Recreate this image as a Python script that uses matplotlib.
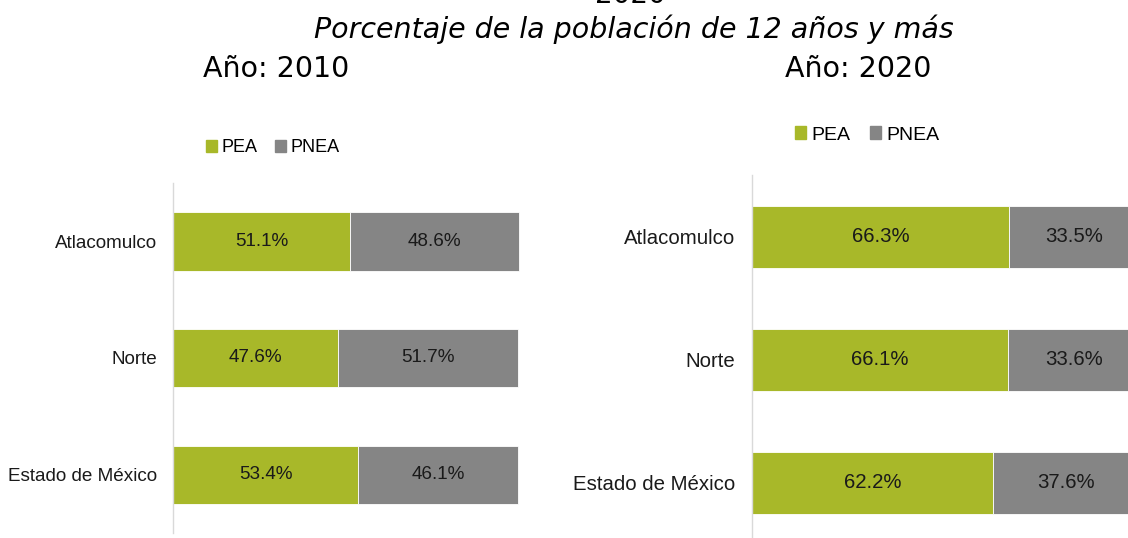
import matplotlib
matplotlib.use("Agg")
import matplotlib.pyplot as plt
from matplotlib.patches import Patch

categories = ["Estado de México", "Norte", "Atlacomulco"]
pea_2010 = [53.4, 47.6, 51.1]
pnea_2010 = [46.1, 51.7, 48.6]
pea_2020 = [62.2, 66.1, 66.3]
pnea_2020 = [37.6, 33.6, 33.5]
series_names = ["PEA", "PNEA"]
title_top = "2020"
title = "Porcentaje de la población de 12 años y más"
year_titles = ["Año: 2010", "Año: 2020"]

GREEN = "#A8B829"
GRAY = "#858585"
LABEL_FONT = "Liberation Sans"

fig = plt.figure(figsize=(11.28, 5.38), dpi=100)
W, H = 1128, 538

def px_axes(x0, y_top, width, height):
    return fig.add_axes([x0 / W, 1 - (y_top + height) / H, width / W, height / H])

def draw_panel(ax, pea, pnea, fs, pad):
    y = list(range(len(categories)))
    ax.barh(y, pea, height=0.5, color=GREEN, edgecolor="white", linewidth=0.6)
    ax.barh(y, pnea, left=pea, height=0.5, color=GRAY, edgecolor="white", linewidth=0.6)
    for yi, a, b in zip(y, pea, pnea):
        ax.text(a / 2, yi, f"{a:.1f}%", ha="center", va="center", fontsize=fs,
                family=LABEL_FONT, color="#1a1a1a")
        ax.text(a + b / 2, yi, f"{b:.1f}%", ha="center", va="center", fontsize=fs,
                family=LABEL_FONT, color="#1a1a1a")
    ax.set_xlim(0, 100)
    ax.set_ylim(-0.5, 2.5)
    ax.set_yticks(y)
    ax.set_yticklabels(categories, fontsize=fs, family=LABEL_FONT, color="#1a1a1a")
    ax.tick_params(axis="y", length=0, pad=pad)
    ax.set_xticks([])
    for s in ["top", "right", "bottom"]:
        ax.spines[s].set_visible(False)
    ax.spines["left"].set_color("#d9d9d9")
    ax.spines["left"].set_linewidth(1.0)
    ax.patch.set_alpha(0)

ax1 = px_axes(173, 183, 347, 350)
draw_panel(ax1, pea_2010, pnea_2010, 13.6, 11.5)
ax2 = px_axes(752, 175.5, 388, 369)
draw_panel(ax2, pea_2020, pnea_2020, 14.7, 12)

handles = [Patch(color=GREEN, label=series_names[0]), Patch(color=GRAY, label=series_names[1])]
fig.legend(handles=handles, loc="center", bbox_to_anchor=(273 / W, 1 - 148 / H), ncol=2,
           frameon=False, handlelength=0.6, handleheight=0.6, handletextpad=0.25,
           columnspacing=1.0, prop={"family": LABEL_FONT, "size": 13})
fig.legend(handles=handles, loc="center", bbox_to_anchor=(867 / W, 1 - 135 / H), ncol=2,
           frameon=False, handlelength=0.6, handleheight=0.6, handletextpad=0.25,
           columnspacing=1.0, prop={"family": LABEL_FONT, "size": 14})

fig.text(630 / W, 1 - 3 / H, title_top, ha="center", va="baseline", fontsize=20,
         family="DejaVu Sans", color="black")
fig.text(634 / W, 1 - 38 / H, title, ha="center", va="baseline", fontsize=20.5,
         family="DejaVu Sans", style="italic", color="black")
fig.text(203 / W, 1 - 77 / H, year_titles[0], ha="left", va="baseline", fontsize=20.5,
         family="DejaVu Sans", color="black")
fig.text(785 / W, 1 - 77 / H, year_titles[1], ha="left", va="baseline", fontsize=20.5,
         family="DejaVu Sans", color="black")

fig.savefig("out.png", dpi=100, facecolor="white")
